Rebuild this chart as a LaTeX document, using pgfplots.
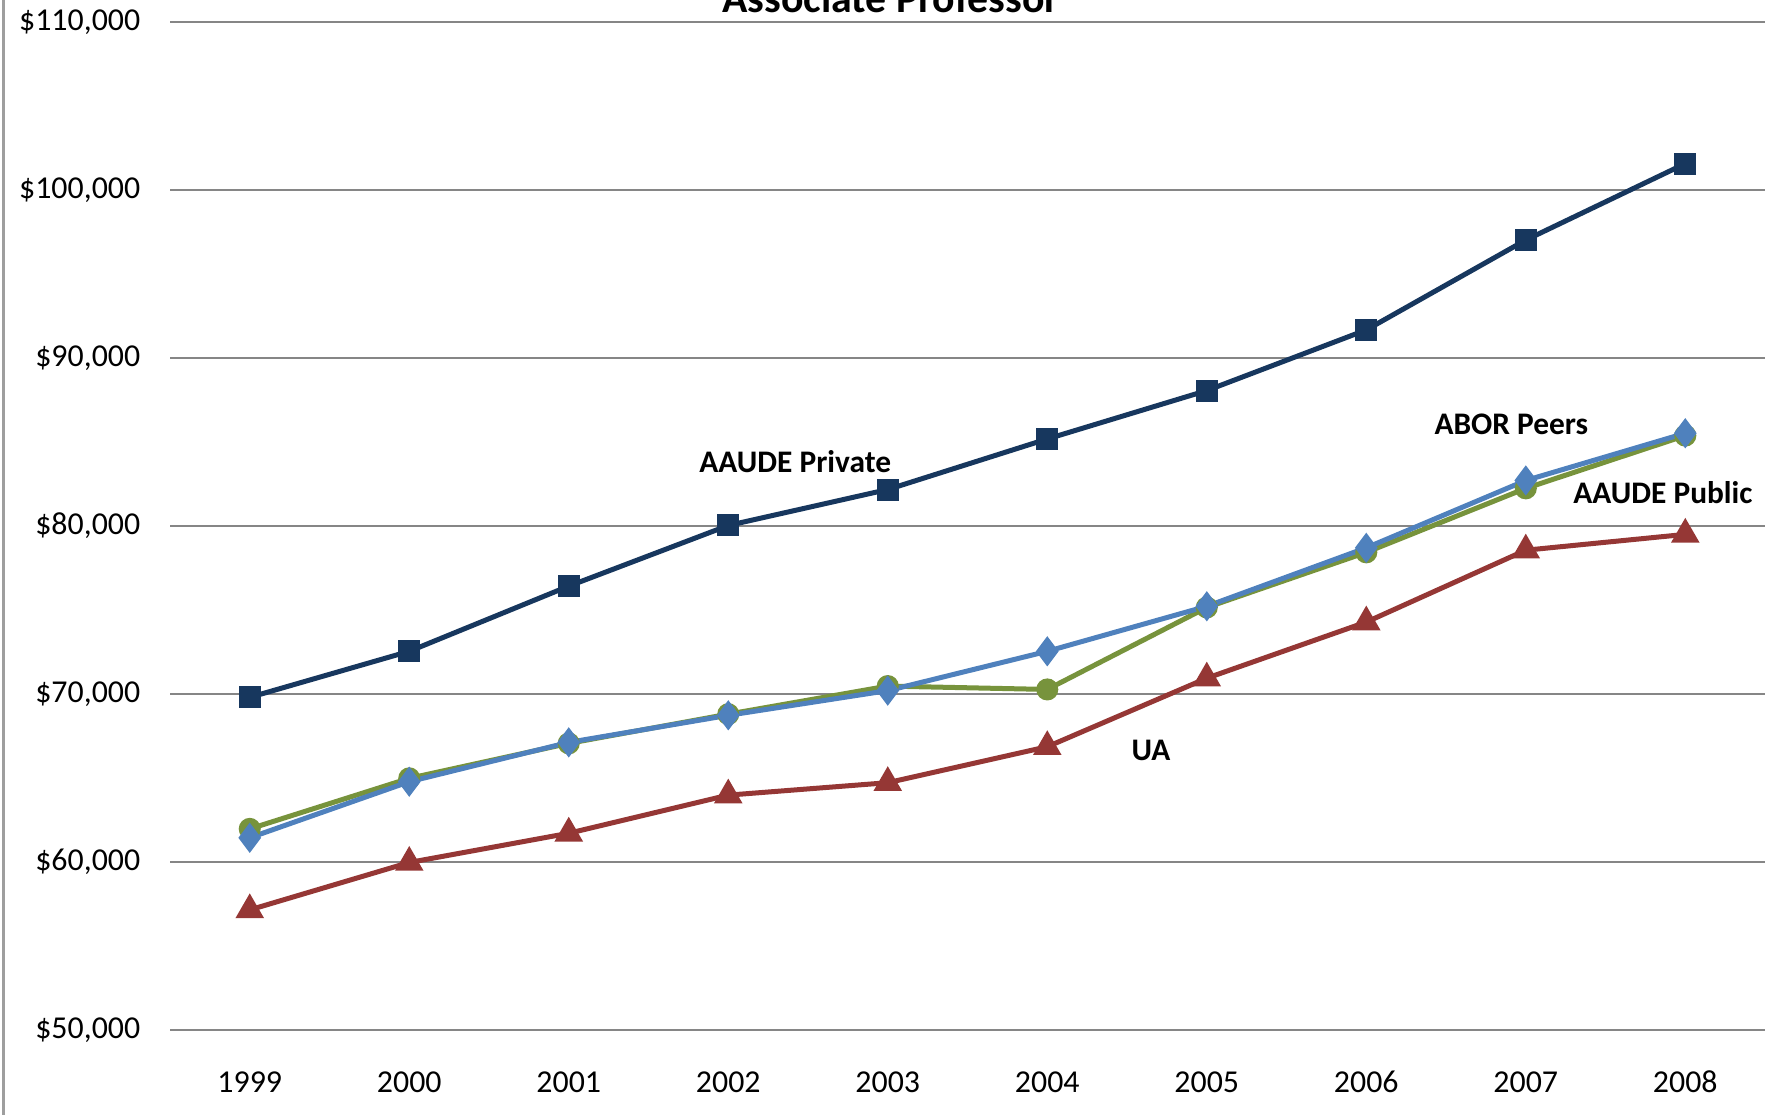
\documentclass[border=0pt]{standalone}
\usepackage{pgfplots}
\pgfplotsset{compat=1.18}
\usepackage{fontspec}
\setmainfont{Carlito}
\definecolor{cPriv}{HTML}{17375E}
\definecolor{cPeer}{HTML}{4F81BD}
\definecolor{cPub}{HTML}{77933C}
\definecolor{cUA}{HTML}{953735}
\definecolor{gridgray}{HTML}{868686}
\begin{document}
\begin{tikzpicture}[x=1bp,y=1bp]
\useasboundingbox (0,0) rectangle (706,446);
\draw[gridgray!80, line width=1bp] (1.3,0) -- (1.3,446);
\begin{axis}[
    at={(68bp,34bp)}, anchor=south west,
    scale only axis, width=638bp, height=403.2bp,
    xmin=-0.5, xmax=9.5, ymin=50000, ymax=110000,
    xtick={0,...,9},
    xticklabels={1999,2000,2001,2002,2003,2004,2005,2006,2007,2008},
    ytick={50000,60000,70000,80000,90000,100000,110000},
    yticklabels={{\$50,000},{\$60,000},{\$70,000},{\$80,000},{\$90,000},{\$100,000},{\$110,000}},
    axis line style={draw=none},
    major tick length=0pt,
    ymajorgrids,
    grid style={color=gridgray, line width=0.9bp},
    tick label style={font=\fontsize{12.8}{15}\selectfont, text=black},
    yticklabel style={xshift=-8.4bp},
    xticklabel style={anchor=base, yshift=-25bp},
    clip=false,
]
% AAUDE Public
\addplot[color=cPub, line width=2bp, mark=*, mark size=3.4bp] coordinates {
(0,61970) (1,64980) (2,67060) (3,68800) (4,70470) (5,70270) (6,75150) (7,78430) (8,82240) (9,85380)};
% ABOR Peers
\addplot[color=cPeer, line width=2bp, mark=diamond*, mark size=4.4bp] coordinates {
(0,61440) (1,64780) (2,67120) (3,68730) (4,70200) (5,72540) (6,75220) (7,78700) (8,82710) (9,85520)};
% UA
\addplot[color=cUA, line width=2bp, mark=triangle*, mark size=4.6bp] coordinates {
(0,57150) (1,59970) (2,61710) (3,63980) (4,64720) (5,66860) (6,70940) (7,74280) (8,78560) (9,79500)};
% AAUDE Private
\addplot[color=cPriv, line width=2bp, mark=square*, mark size=3.4bp] coordinates {
(0,69800) (1,72540) (2,76420) (3,80030) (4,82170) (5,85180) (6,88060) (7,91670) (8,97020) (9,101570)};

\node[font=\bfseries\fontsize{12.6}{15}\selectfont] at (axis cs:3.42,83850) {AAUDE Private};
\node[font=\bfseries\fontsize{12.6}{15}\selectfont] at (axis cs:7.91,86050) {ABOR Peers};
\node[font=\bfseries\fontsize{12.6}{15}\selectfont] at (axis cs:8.86,81970) {AAUDE Public};
\node[font=\bfseries\fontsize{12.6}{15}\selectfont] at (axis cs:5.65,66660) {UA};
\end{axis}
\node[anchor=base, font=\bfseries\fontsize{16.8}{20}\selectfont, inner sep=0pt] at (356.4,440.8) {Associate Professor};
\end{tikzpicture}
\end{document}
